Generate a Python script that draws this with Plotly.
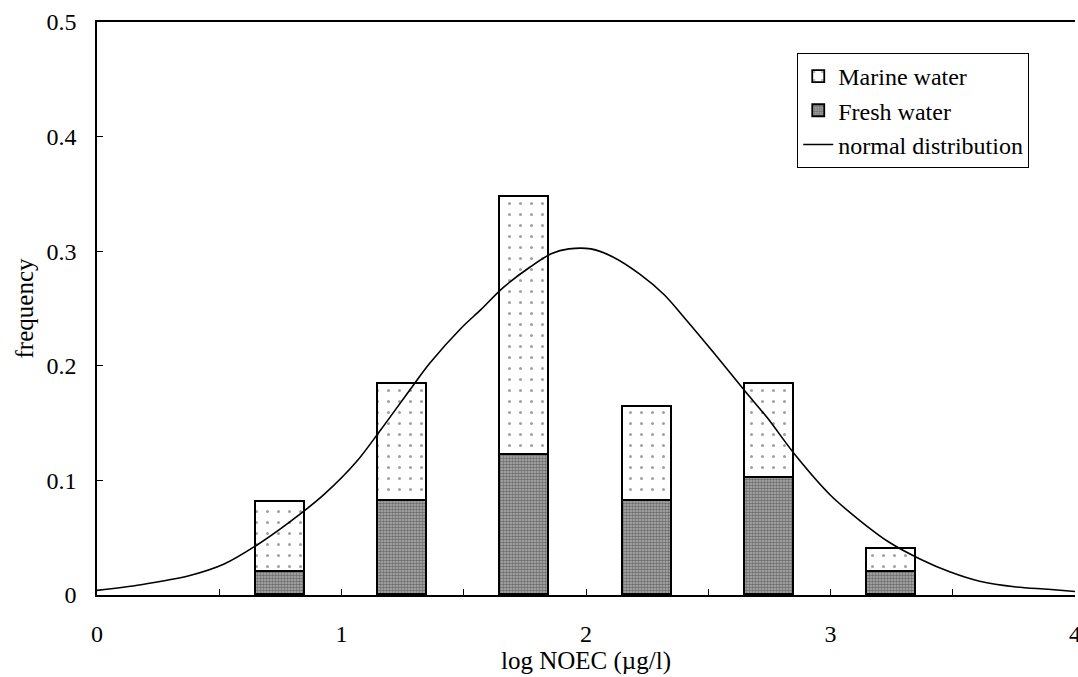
import plotly.graph_objects as go

# Bin centres of log NOEC (µg/l) and frequency of each water type
bin_centres = [0.75, 1.25, 1.75, 2.25, 2.75, 3.25]
fresh_water = [0.020, 0.082, 0.122, 0.082, 0.102, 0.020]
marine_water = [0.061, 0.102, 0.225, 0.082, 0.082, 0.020]

# Fitted normal distribution curve
curve_x = [0.0, 0.18, 0.38, 0.52, 0.65, 0.79, 0.93, 1.06, 1.16, 1.29, 1.36,
           1.49, 1.57, 1.66, 1.77, 1.86, 1.93, 2.02, 2.11, 2.22, 2.32, 2.41,
           2.52, 2.65, 2.74, 2.86, 3.0, 3.12, 3.24, 3.37, 3.49, 3.61, 3.76,
           3.89, 4.0]
curve_y = [0.004, 0.009, 0.017, 0.027, 0.043, 0.064, 0.088, 0.116, 0.144,
           0.182, 0.202, 0.233, 0.249, 0.268, 0.286, 0.298, 0.302, 0.302,
           0.295, 0.280, 0.262, 0.240, 0.212, 0.178, 0.155, 0.121, 0.087,
           0.065, 0.046, 0.031, 0.020, 0.012, 0.007, 0.005, 0.003]

# Axis ticks
x_tick_vals = [0, 0.5, 1, 1.5, 2, 2.5, 3, 3.5, 4]
x_tick_text = ["0", "", "1", "", "2", "", "3", "", "4"]
y_tick_vals = [0, 0.1, 0.2, 0.3, 0.4, 0.5]
y_tick_text = ["0", "0.1", "0.2", "0.3", "0.4", "0.5"]

FONT = "Liberation Serif"
TICK_SIZE = 24
TEXT_SIZE = 25
BAR_WIDTH = 0.2

fig = go.Figure()

fig.add_trace(go.Bar(
    x=bin_centres, y=fresh_water, width=BAR_WIDTH, name="Fresh water",
    legendrank=2,
    marker=dict(
        color="#7a7a7a",
        line=dict(color="black", width=1.8),
        pattern=dict(shape=".", size=3, solidity=0.55,
                     fgcolor="#2a2a2a", bgcolor="#b0b0b0", fillmode="overlay"),
    ),
))

fig.add_trace(go.Bar(
    x=bin_centres, y=marine_water, width=BAR_WIDTH, name="Marine water",
    legendrank=1,
    marker=dict(
        color="white",
        line=dict(color="black", width=1.8),
        pattern=dict(shape=".", size=11, solidity=0.06,
                     fgcolor="#444444", bgcolor="white", fillmode="overlay"),
    ),
))

fig.add_trace(go.Scatter(
    x=curve_x, y=curve_y, mode="lines", name="normal distribution",
    legendrank=3,
    line=dict(color="black", width=1.6, shape="spline", smoothing=0.9),
))

fig.update_layout(
    width=1078, height=677,
    margin=dict(l=97, r=3, t=22, b=82),
    paper_bgcolor="white", plot_bgcolor="white",
    barmode="stack", bargap=0,
    font=dict(family=FONT, size=TEXT_SIZE, color="black"),
    legend=dict(
        x=0.716, y=0.946, xanchor="left", yanchor="top",
        traceorder="normal",
        bgcolor="white", bordercolor="black", borderwidth=1,
        font=dict(family=FONT, size=24, color="black"),
        tracegroupgap=0, itemwidth=30,
    ),
    showlegend=True,
)

fig.update_xaxes(
    range=[0, 4], tickmode="array", tickvals=x_tick_vals, ticktext=x_tick_text,
    ticks="inside", ticklen=6, tickwidth=1, tickcolor="black",
    tickfont=dict(family=FONT, size=TICK_SIZE, color="black"),
    ticklabeloverflow="allow", automargin=False,
    showline=True, linecolor="black", linewidth=1.5, mirror=True,
    showgrid=False, zeroline=False, ticklabelstandoff=16,
    title=dict(text="log NOEC (µg/l)", standoff=3,
               font=dict(family=FONT, size=TEXT_SIZE, color="black")),
)

fig.update_yaxes(
    range=[0, 0.5], tickmode="array", tickvals=y_tick_vals, ticktext=y_tick_text,
    ticks="inside", ticklen=6, tickwidth=1, tickcolor="black",
    tickfont=dict(family=FONT, size=TICK_SIZE, color="black"),
    automargin=False,
    showline=True, linecolor="black", linewidth=1.5,
    showgrid=False, zeroline=False, ticklabelstandoff=14,
    title=dict(text="frequency", standoff=6,
               font=dict(family=FONT, size=TEXT_SIZE, color="black")),
)

fig.write_html("out.html")
